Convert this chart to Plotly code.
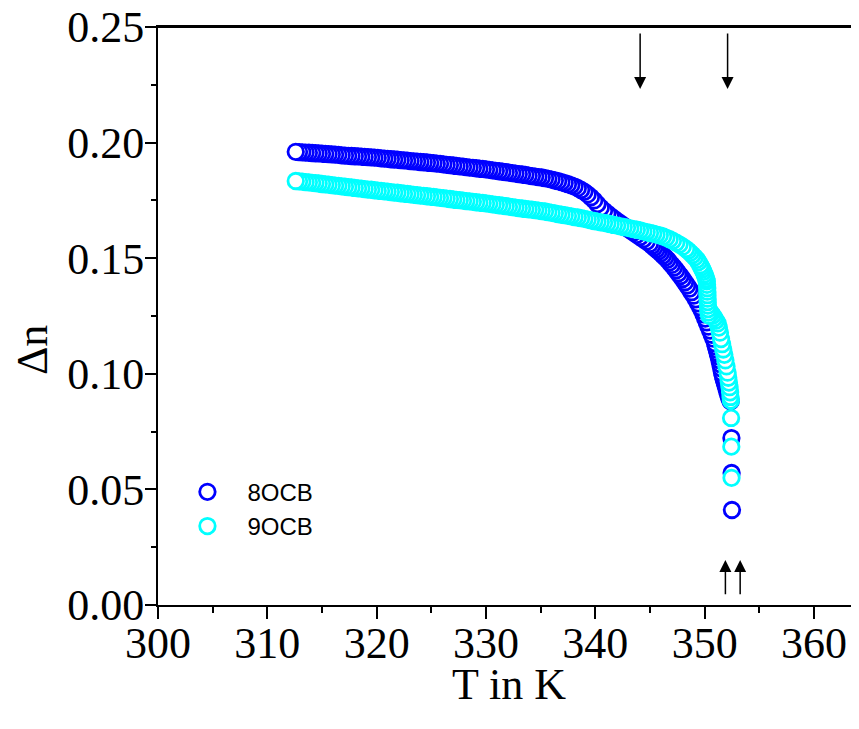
import plotly.graph_objects as go

# ---------------- data ----------------
T_8OCB = [
    312.6, 312.9, 313.2, 313.5, 313.8, 314.1, 314.4, 314.7, 315.0,
    315.3, 315.6, 315.9, 316.2, 316.5, 316.8, 317.1, 317.4, 317.7, 318.0,
    318.3, 318.6, 318.9, 319.2, 319.5, 319.8, 320.1, 320.4, 320.7, 321.0,
    321.3, 321.6, 321.9, 322.2, 322.5, 322.8, 323.1, 323.4, 323.7, 324.0,
    324.3, 324.6, 324.9, 325.2, 325.5, 325.8, 326.1, 326.4, 326.7, 327.0,
    327.3, 327.6, 327.9, 328.2, 328.5, 328.8, 329.1, 329.4, 329.7, 330.0,
    330.3, 330.6, 330.9, 331.2, 331.5, 331.8, 332.1, 332.4, 332.7, 333.0,
    333.3, 333.6, 333.9, 334.2, 334.5, 334.8, 335.1, 335.4, 335.7, 336.0,
    336.3, 336.6, 336.9, 337.2, 337.5, 337.8, 338.1, 338.4, 338.7, 339.0,
    339.3, 339.6, 339.9, 340.2, 340.5, 340.8, 341.1, 341.4, 341.7, 342.0,
    342.3, 342.6, 342.9, 343.2, 343.5, 343.8, 344.1, 344.4, 344.7, 345.0,
    345.2, 345.4, 345.6, 345.8, 346.0, 346.2, 346.4, 346.6, 346.8, 347.0,
    347.2, 347.4, 347.6, 347.8, 348.0, 348.2, 348.4, 348.6, 348.8, 349.0,
    349.2, 349.4, 349.6, 349.75, 349.9, 350.05, 350.2, 350.35, 350.5, 350.65,
    350.8, 350.95, 351.03, 351.11, 351.19, 351.27, 351.35, 351.43, 351.51, 351.59,
    351.67, 351.75, 351.83, 351.91, 351.99, 352.07, 352.15, 352.23, 352.31, 352.38,
    352.45, 352.47, 352.5,
]
DN_8OCB = [
    0.1960, 0.1959, 0.1958, 0.1957, 0.1956, 0.1955, 0.1954, 0.1953, 0.1952,
    0.1951, 0.1950, 0.1949, 0.1948, 0.1947, 0.1945, 0.1944, 0.1943, 0.1942, 0.1941,
    0.1940, 0.1939, 0.1938, 0.1937, 0.1936, 0.1935, 0.1934, 0.1932, 0.1931, 0.1930,
    0.1928, 0.1927, 0.1926, 0.1924, 0.1923, 0.1922, 0.1920, 0.1919, 0.1918, 0.1916,
    0.1915, 0.1914, 0.1912, 0.1911, 0.1909, 0.1908, 0.1906, 0.1904, 0.1903, 0.1901,
    0.1899, 0.1897, 0.1896, 0.1894, 0.1892, 0.1891, 0.1889, 0.1887, 0.1886, 0.1884,
    0.1882, 0.1880, 0.1878, 0.1876, 0.1874, 0.1872, 0.1870, 0.1868, 0.1866, 0.1864,
    0.1862, 0.1860, 0.1857, 0.1855, 0.1853, 0.1851, 0.1849, 0.1846, 0.1843, 0.1840,
    0.1836, 0.1833, 0.1829, 0.1825, 0.1820, 0.1815, 0.1810, 0.1803, 0.1795, 0.1787,
    0.1776, 0.1764, 0.1750, 0.1734, 0.1718, 0.1705, 0.1693, 0.1682, 0.1671, 0.1660,
    0.1650, 0.1640, 0.1630, 0.1621, 0.1611, 0.1601, 0.1592, 0.1582, 0.1572, 0.1562,
    0.1554, 0.1546, 0.1538, 0.1530, 0.1521, 0.1512, 0.1503, 0.1493, 0.1482, 0.1471,
    0.1460, 0.1448, 0.1435, 0.1423, 0.1410, 0.1396, 0.1382, 0.1368, 0.1353, 0.1338,
    0.1322, 0.1305, 0.1288, 0.1274, 0.1257, 0.1239, 0.1222, 0.1204, 0.1187, 0.1169,
    0.1152, 0.1132, 0.1118, 0.1104, 0.1090, 0.1076, 0.1060, 0.1042, 0.1024, 0.1005,
    0.0990, 0.0976, 0.0963, 0.0950, 0.0937, 0.0922, 0.0910, 0.0899, 0.0890, 0.0881,
    0.0722, 0.0571, 0.0411,
]

T_9OCB = [
    312.6, 312.9, 313.2, 313.5, 313.8, 314.1, 314.4, 314.7, 315.0,
    315.3, 315.6, 315.9, 316.2, 316.5, 316.8, 317.1, 317.4, 317.7, 318.0,
    318.3, 318.6, 318.9, 319.2, 319.5, 319.8, 320.1, 320.4, 320.7, 321.0,
    321.3, 321.6, 321.9, 322.2, 322.5, 322.8, 323.1, 323.4, 323.7, 324.0,
    324.3, 324.6, 324.9, 325.2, 325.5, 325.8, 326.1, 326.4, 326.7, 327.0,
    327.3, 327.6, 327.9, 328.2, 328.5, 328.8, 329.1, 329.4, 329.7, 330.0,
    330.3, 330.6, 330.9, 331.2, 331.5, 331.8, 332.1, 332.4, 332.7, 333.0,
    333.3, 333.6, 333.9, 334.2, 334.5, 334.8, 335.1, 335.4, 335.7, 336.0,
    336.3, 336.6, 336.9, 337.2, 337.5, 337.8, 338.1, 338.4, 338.7, 339.0,
    339.3, 339.6, 339.9, 340.2, 340.5, 340.8, 341.1, 341.4, 341.7, 342.0,
    342.3, 342.6, 342.9, 343.2, 343.5, 343.8, 344.1, 344.4, 344.7, 345.0,
    345.3, 345.6, 345.9, 346.2, 346.5, 346.8, 347.1, 347.4, 347.7, 348.0,
    348.3, 348.5, 348.7, 348.9, 349.1, 349.3, 349.45, 349.6, 349.7, 349.8,
    349.9, 350.0, 350.08, 350.15, 350.2, 350.22, 350.24, 350.25, 350.26, 350.27,
    350.28, 350.3, 350.32, 350.35, 350.4, 350.45, 350.6, 350.75, 350.9, 351.05,
    351.2, 351.3, 351.4, 351.5, 351.6, 351.7, 351.8, 351.9, 352.0, 352.1,
    352.16, 352.22, 352.28, 352.33, 352.37, 352.4, 352.42, 352.44, 352.46,
]
DN_9OCB = [
    0.1834, 0.1832, 0.1831, 0.1829, 0.1828, 0.1826, 0.1825, 0.1823, 0.1821,
    0.1819, 0.1818, 0.1816, 0.1814, 0.1813, 0.1811, 0.1809, 0.1807, 0.1806, 0.1804,
    0.1802, 0.1801, 0.1799, 0.1797, 0.1796, 0.1794, 0.1792, 0.1791, 0.1789, 0.1788,
    0.1786, 0.1784, 0.1783, 0.1781, 0.1779, 0.1778, 0.1776, 0.1774, 0.1773, 0.1771,
    0.1770, 0.1768, 0.1766, 0.1765, 0.1763, 0.1761, 0.1760, 0.1758, 0.1756, 0.1754,
    0.1752, 0.1751, 0.1749, 0.1747, 0.1746, 0.1744, 0.1742, 0.1740, 0.1739, 0.1737,
    0.1735, 0.1733, 0.1731, 0.1729, 0.1727, 0.1725, 0.1723, 0.1721, 0.1719, 0.1717,
    0.1715, 0.1713, 0.1711, 0.1710, 0.1708, 0.1706, 0.1704, 0.1702, 0.1699, 0.1696,
    0.1694, 0.1691, 0.1688, 0.1686, 0.1683, 0.1681, 0.1678, 0.1676, 0.1673, 0.1670,
    0.1667, 0.1664, 0.1661, 0.1658, 0.1655, 0.1653, 0.1650, 0.1647, 0.1644, 0.1641,
    0.1638, 0.1635, 0.1632, 0.1629, 0.1626, 0.1623, 0.1620, 0.1616, 0.1613, 0.1609,
    0.1606, 0.1602, 0.1599, 0.1594, 0.1588, 0.1582, 0.1575, 0.1567, 0.1559, 0.1550,
    0.1540, 0.1532, 0.1523, 0.1514, 0.1504, 0.1493, 0.1483, 0.1470, 0.1461, 0.1451,
    0.1441, 0.1430, 0.1420, 0.1410, 0.1400, 0.1385, 0.1370, 0.1355, 0.1340, 0.1325,
    0.1310, 0.1295, 0.1280, 0.1265, 0.1252, 0.1272, 0.1262, 0.1252, 0.1241, 0.1230,
    0.1218, 0.1200, 0.1178, 0.1150, 0.1128, 0.1105, 0.1082, 0.1058, 0.1032, 0.1005,
    0.0983, 0.0962, 0.0942, 0.0920, 0.0900, 0.0884, 0.0809, 0.0685, 0.0550,
]

# transition markers (arrows): temperatures
ARROWS_DOWN_T = [344.1, 352.1]
ARROWS_UP_T = [351.9, 353.25]

X_TICKS = [300, 310, 320, 330, 340, 350, 360]
Y_TICKS = [0.00, 0.05, 0.10, 0.15, 0.20, 0.25]

SERIF = "Liberation Serif, Times New Roman, serif"
SANS = "Liberation Sans, Arial, sans-serif"
NB = "\u00a0"

fig = go.Figure()

# drawn from high T to low T so that the lowest-T circle ends on top
for name, T, dn, col in [("8OCB", T_8OCB, DN_8OCB, "#0000FF"),
                         ("9OCB", T_9OCB, DN_9OCB, "#00FFFF")]:
    fig.add_trace(go.Scatter(
        x=T[::-1], y=dn[::-1], mode="markers", name=NB * 3 + name,
        marker=dict(symbol="circle", size=15.5, color="white",
                    line=dict(color=col, width=2.8)),
    ))

ann = []
for t in ARROWS_DOWN_T:
    ann.append(dict(x=t, y=0.2232, ax=t, ay=0.2478, xref="x", yref="y",
                    axref="x", ayref="y", text="", showarrow=True,
                    arrowhead=2, arrowsize=1.6, arrowwidth=1.5,
                    arrowcolor="black", standoff=0))
for t in ARROWS_UP_T:
    ann.append(dict(x=t, y=0.0195, ax=t, ay=0.0040, xref="x", yref="y",
                    axref="x", ayref="y", text="", showarrow=True,
                    arrowhead=2, arrowsize=1.6, arrowwidth=1.5,
                    arrowcolor="black", standoff=0))
# axis titles
ann.append(dict(x=-0.180, y=0.441, xref="paper", yref="paper", text="Δn",
                textangle=-90, showarrow=False, xanchor="center",
                yanchor="middle",
                font=dict(family=SERIF, size=44, color="black")))
ann.append(dict(x=0.5, y=-0.1384, xref="paper", yref="paper", text="T in K",
                showarrow=False, xanchor="center", yanchor="middle",
                font=dict(family=SERIF, size=44, color="black")))

fig.update_layout(
    width=851, height=721,
    margin=dict(l=150, r=0, t=19, b=124, autoexpand=False),
    plot_bgcolor="white", paper_bgcolor="white",
    showlegend=True,
    legend=dict(x=0.042, y=0.234, xanchor="left", yanchor="top",
                bgcolor="rgba(0,0,0,0)", borderwidth=0,
                font=dict(family=SANS, size=24, color="black"),
                itemsizing="trace"),
    annotations=ann,
    shapes=[dict(type="line", xref="paper", yref="paper", x0=0, x1=1,
                 y0=1, y1=1, line=dict(color="black", width=2))],
    xaxis=dict(
        range=[300, 364.12], tickmode="array", tickvals=X_TICKS,
        ticktext=[str(v) for v in X_TICKS], automargin=False,
        ticks="outside", ticklen=12, tickwidth=2, tickcolor="black",
        showline=True, linewidth=2, linecolor="black", mirror=True,
        showgrid=False, zeroline=False, ticklabelstandoff=-14,
        ticklabeloverflow="allow",
        tickfont=dict(family=SERIF, size=44, color="black"),
        minor=dict(ticks="outside", ticklen=6, tickwidth=2,
                   tickcolor="black", dtick=5, tick0=300, showgrid=False),
    ),
    yaxis=dict(
        range=[0, 0.25], tickmode="array", tickvals=Y_TICKS,
        ticktext=[f"{v:.2f}" for v in Y_TICKS], automargin=False,
        ticks="outside", ticklen=11, tickwidth=2, tickcolor="black",
        showline=True, linewidth=2, linecolor="black", mirror=False,
        showgrid=False, zeroline=False, ticklabelstandoff=-8,
        ticklabeloverflow="allow",
        tickfont=dict(family=SERIF, size=44, color="black"),
        minor=dict(ticks="outside", ticklen=5, tickwidth=2,
                   tickcolor="black", dtick=0.025, tick0=0, showgrid=False),
    ),
)

fig.write_html("out.html")
